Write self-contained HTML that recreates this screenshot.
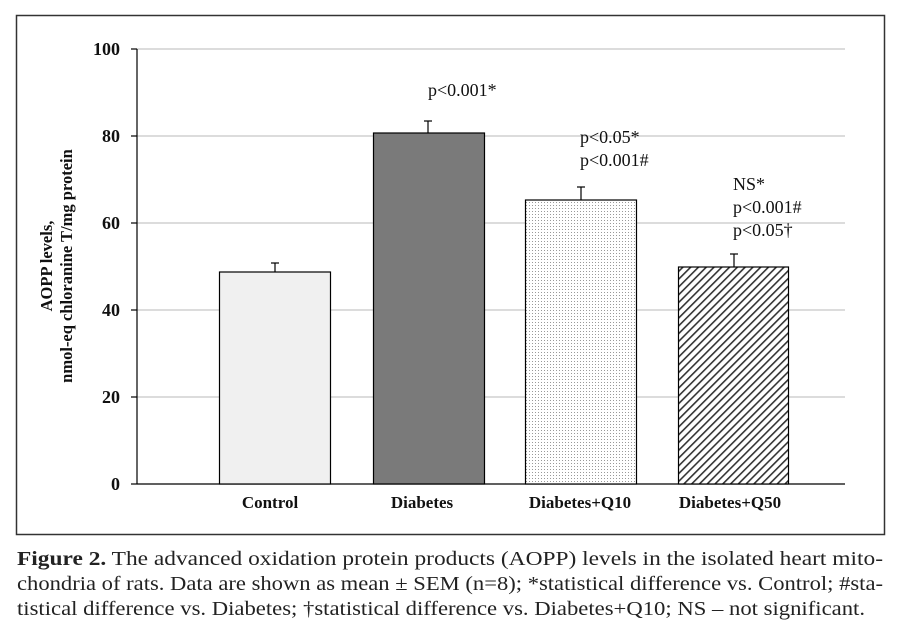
<!DOCTYPE html>
<html><head><meta charset="utf-8"><style>
body{margin:0;background:#fff;}
svg, svg text{font-family:"Liberation Serif","Times New Roman",Times,serif;}
</style></head><body>
<svg width="900" height="637" viewBox="0 0 900 637" font-family="Liberation Serif, serif">
<defs>
<pattern id="dots" width="3" height="3" patternUnits="userSpaceOnUse"><rect width="3" height="3" fill="#fff"/><rect x="1" y="1" width="1" height="1" fill="#999"/></pattern>
<pattern id="hatch" width="5.5" height="5.5" patternUnits="userSpaceOnUse" patternTransform="rotate(45)"><rect width="5.5" height="5.5" fill="#fff"/><rect x="0" y="0" width="1.6" height="5.5" fill="#333"/></pattern>
</defs>
<rect x="16.5" y="15.5" width="868" height="519" fill="#fff" stroke="#333" stroke-width="1.5"/>
<g stroke="#c8c8c8" stroke-width="1.2">
<line x1="137" y1="49" x2="845" y2="49"/><line x1="137" y1="136" x2="845" y2="136"/><line x1="137" y1="223" x2="845" y2="223"/><line x1="137" y1="310" x2="845" y2="310"/><line x1="137" y1="397" x2="845" y2="397"/>
</g>
<g stroke="#000" stroke-width="1.2">
<line x1="137" y1="49" x2="137" y2="484"/><line x1="137" y1="484" x2="845" y2="484"/>
<line x1="131" y1="49" x2="137" y2="49"/><line x1="131" y1="136" x2="137" y2="136"/><line x1="131" y1="223" x2="137" y2="223"/><line x1="131" y1="310" x2="137" y2="310"/><line x1="131" y1="397" x2="137" y2="397"/><line x1="131" y1="484" x2="137" y2="484"/>
<line x1="275" y1="272" x2="275" y2="263"/><line x1="271" y1="263" x2="279" y2="263"/>
<line x1="428" y1="133" x2="428" y2="121"/><line x1="424" y1="121" x2="432" y2="121"/>
<line x1="581" y1="200" x2="581" y2="187"/><line x1="577" y1="187" x2="585" y2="187"/>
<line x1="734" y1="267" x2="734" y2="254"/><line x1="730" y1="254" x2="738" y2="254"/>
</g>
<rect x="219.5" y="272" width="111" height="212" fill="#f0f0f0" stroke="#000" stroke-width="1.2"/>
<rect x="373.5" y="133" width="111" height="351" fill="#7a7a7a" stroke="#000" stroke-width="1.2"/>
<rect x="525.5" y="200" width="111" height="284" fill="url(#dots)" stroke="#000" stroke-width="1.2"/>
<rect x="678.5" y="267" width="110" height="217" fill="url(#hatch)" stroke="#000" stroke-width="1.2"/>
<g font-weight="bold" font-size="18" text-anchor="end" fill="#111">
<text x="120" y="55">100</text><text x="120" y="142">80</text><text x="120" y="229">60</text><text x="120" y="316">40</text><text x="120" y="403">20</text><text x="120" y="490">0</text>
</g>
<g font-weight="bold" font-size="17" text-anchor="middle" fill="#111">
<text x="270" y="508">Control</text><text x="422" y="508">Diabetes</text><text x="580" y="508">Diabetes+Q10</text><text x="730" y="508">Diabetes+Q50</text>
</g>
<g font-weight="bold" font-size="16.5" text-anchor="middle" fill="#111">
<text transform="translate(52,266) rotate(-90)">AOPP levels,</text>
<text transform="translate(72,266) rotate(-90)">nmol-eq chloranine T/mg protein</text>
</g>
<g font-size="18" fill="#111">
<text x="428" y="96">p&lt;0.001*</text>
<text x="580" y="143">p&lt;0.05*</text><text x="580" y="166">p&lt;0.001#</text>
<text x="733" y="190">NS*</text><text x="733" y="213">p&lt;0.001#</text><text x="733" y="236">p&lt;0.05†</text>
</g>
<g font-size="20" fill="#222">
<text x="17" y="565" textLength="866" lengthAdjust="spacingAndGlyphs"><tspan font-weight="bold">Figure 2.</tspan> The advanced oxidation protein products (AOPP) levels in the isolated heart mito-</text>
<text x="17" y="590" textLength="866" lengthAdjust="spacingAndGlyphs">chondria of rats. Data are shown as mean ± SEM (n=8); *statistical difference vs. Control; #sta-</text>
<text x="17" y="615" textLength="848" lengthAdjust="spacingAndGlyphs">tistical difference vs. Diabetes; †statistical difference vs. Diabetes+Q10; NS – not significant.</text>
</g>
</svg>
</body></html>
